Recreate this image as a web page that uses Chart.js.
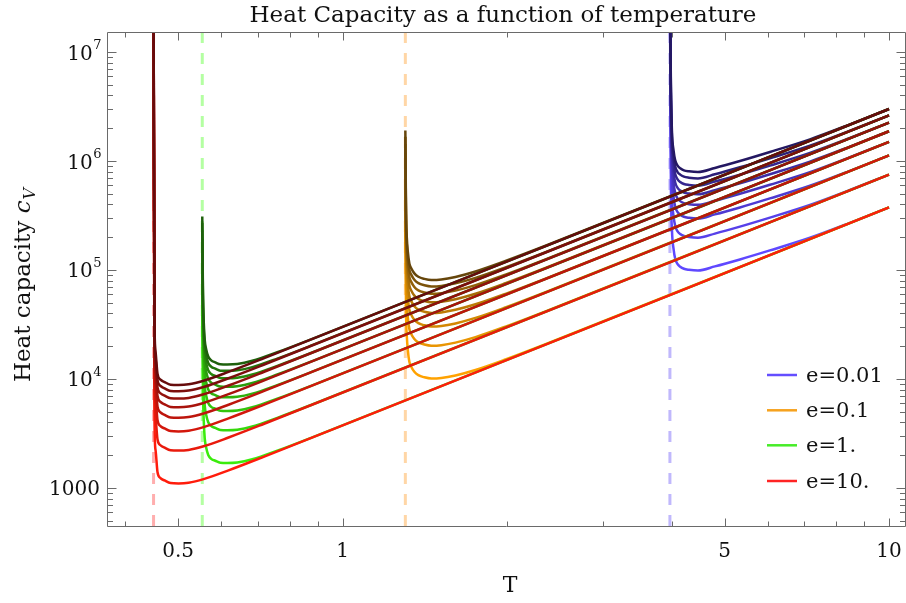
<!DOCTYPE html>
<html><head><meta charset="utf-8">
<script src="https://cdn.jsdelivr.net/npm/chart.js@4.4.1/dist/chart.umd.min.js"></script>
<style>html,body{margin:0;padding:0;background:#fff;}canvas{display:block;}</style>
</head><body>
<canvas id="c" width="906" height="603" style="width:906px;height:603px"></canvas>
<script>
// ---------- data ----------
const seriesLabels = ['e=0.01', 'e=0.1', 'e=1.', 'e=10.'];
const Tc = [3.9718, 1.3024, 0.5534, 0.4507];   // dashed critical temperatures

// e = 10
const T_e10 = [0.4507, 0.4525, 0.4545, 0.4583, 0.4641, 0.4721, 0.4842, 0.5007, 0.5224, 0.5565, 0.6182, 0.7166, 10];
const cV_e10 = [
 [4e7, 4164, 2228, 1394, 1233, 1172, 1109, 1102, 1118, 1206, 1452, 1932, 375000],
 [4e7, 8328, 4456, 2788, 2466, 2344, 2218, 2204, 2236, 2412, 2904, 3864, 750000],
 [4e7, 12490, 6684, 4182, 3699, 3516, 3327, 3306, 3354, 3618, 4356, 5796, 1125000],
 [4e7, 16660, 8912, 5576, 4932, 4688, 4436, 4408, 4472, 4824, 5808, 7728, 1500000],
 [4e7, 20820, 11140, 6970, 6165, 5860, 5545, 5510, 5590, 6030, 7260, 9660, 1875000],
 [4e7, 24980, 13370, 8364, 7398, 7032, 6654, 6612, 6708, 7236, 8712, 11590, 2250000],
 [4e7, 29150, 15600, 9758, 8631, 8204, 7763, 7714, 7826, 8442, 10160, 13520, 2625000],
 [4e7, 33310, 17820, 11150, 9864, 9376, 8872, 8816, 8944, 9648, 11620, 15460, 3000000]
];

// e = 1
const T_e1 = [0.5534, 0.5550, 0.5569, 0.5592, 0.5627, 0.5675, 0.5747, 0.5845, 0.5970, 0.6148, 0.6413, 0.6834, 0.7592, 0.8800, 10];
const cV_e1 = [
 [38690, 7733, 4132, 2849, 2335, 2006, 1851, 1778, 1704, 1697, 1715, 1835, 2199, 2917, 375000],
 [77380, 15470, 8264, 5698, 4670, 4012, 3702, 3556, 3408, 3394, 3430, 3670, 4398, 5834, 750000],
 [116100, 23200, 12400, 8547, 7005, 6018, 5553, 5334, 5112, 5091, 5145, 5505, 6597, 8751, 1125000],
 [154800, 30930, 16530, 11400, 9340, 8024, 7404, 7112, 6816, 6788, 6860, 7340, 8796, 11670, 1500000],
 [193500, 38670, 20660, 14250, 11680, 10030, 9255, 8890, 8520, 8485, 8575, 9175, 11000, 14590, 1875000],
 [232100, 46400, 24790, 17090, 14010, 12040, 11110, 10670, 10220, 10180, 10290, 11010, 13190, 17500, 2250000],
 [270800, 54130, 28920, 19940, 16350, 14040, 12960, 12450, 11930, 11880, 12010, 12850, 15390, 20420, 2625000],
 [309500, 61860, 33060, 22790, 18680, 16050, 14810, 14220, 13630, 13580, 13720, 14680, 17590, 23340, 3000000]
];

// e = 0.1
const T_e01 = [1.3024, 1.3062, 1.3107, 1.3162, 1.3246, 1.3358, 1.3528, 1.3758, 1.4110, 1.4532, 1.5158, 1.6087, 1.7502, 1.9861, 2.3513, 10];
const cV_e01 = [
 [238300, 41090, 24390, 18300, 14380, 12890, 11640, 10840, 10360, 10100, 10210, 10780, 12110, 15110, 20860, 375000],
 [476600, 82180, 48780, 36600, 28760, 25780, 23280, 21680, 20720, 20200, 20420, 21560, 24220, 30220, 41720, 750000],
 [714900, 123300, 73170, 54900, 43140, 38670, 34920, 32520, 31080, 30300, 30630, 32340, 36330, 45330, 62580, 1125000],
 [953200, 164400, 97560, 73200, 57520, 51560, 46560, 43360, 41440, 40400, 40840, 43120, 48440, 60440, 83440, 1500000],
 [1192000, 205500, 122000, 91500, 71900, 64450, 58200, 54200, 51800, 50500, 51050, 53900, 60550, 75550, 104300, 1875000],
 [1430000, 246500, 146300, 109800, 86280, 77340, 69840, 65040, 62160, 60600, 61260, 64680, 72660, 90660, 125200, 2250000],
 [1668000, 287600, 170700, 128100, 100700, 90230, 81480, 75880, 72520, 70700, 71470, 75460, 84770, 105800, 146000, 2625000],
 [1906000, 328700, 195100, 146400, 115000, 103100, 93120, 86720, 82880, 80800, 81680, 86240, 96880, 120900, 166900, 3000000]
];

// e = 0.01
const T_e001 = [3.9718, 3.9886, 4.0054, 4.0342, 4.0615, 4.0994, 4.1480, 4.2133, 4.3031, 4.4694, 4.8007, 5.3349, 6.0542, 7.1671, 8.4846, 10];
const cV_e001 = [
 [4e7, 609200, 237400, 154600, 126800, 113800, 107100, 102600, 100500, 98970, 107900, 125000, 151200, 197600, 271000, 375000],
 [4e7, 1218000, 474800, 309200, 253600, 227600, 214200, 205200, 201000, 197900, 215800, 250000, 302400, 395200, 542000, 750000],
 [4e7, 1828000, 712200, 463800, 380400, 341400, 321300, 307800, 301500, 296900, 323700, 375000, 453600, 592800, 813000, 1125000],
 [4e7, 2437000, 949600, 618400, 507200, 455200, 428400, 410400, 402000, 395900, 431600, 500000, 604800, 790400, 1084000, 1500000],
 [4e7, 3046000, 1187000, 773000, 634000, 569000, 535500, 513000, 502500, 494900, 539500, 625000, 756000, 988000, 1355000, 1875000],
 [4e7, 3655000, 1424000, 927600, 760800, 682800, 642600, 615600, 603000, 593800, 647400, 750000, 907200, 1186000, 1626000, 2250000],
 [4e7, 4264000, 1662000, 1082000, 887600, 796600, 749700, 718200, 703500, 692800, 755300, 875000, 1058000, 1383000, 1897000, 2625000],
 [4e7, 4874000, 1899000, 1237000, 1014000, 910400, 856800, 820800, 804000, 791800, 863200, 1000000, 1210000, 1581000, 2168000, 3000000]
];

// axis ticks
const xTickMajor = [0.5, 1, 5, 10];
const xTickLabels = ['0.5', '1', '5', '10'];
const xTickMinor = [0.4, 0.6, 0.7, 0.8, 0.9, 2, 3, 4, 6, 7, 8, 9];
const yTickMajor = [1000, 1e4, 1e5, 1e6, 1e7];
const yTickBase = ['1000', '10', '10', '10', '10'];
const yTickExp  = ['', '4', '5', '6', '7'];

// ---------- styling ----------
const X_MIN = 0.3704, X_MAX = 10.697, Y_MIN = 448, Y_MAX = 1.526e7;
const FONT = '"DejaVu Serif", "Liberation Serif", serif';
const groups = [
  {T: T_e001, C: cV_e001, c1: [95, 72, 255], c8: [36, 24, 98],  dash: 'rgb(192,184,252)', leg: 'rgb(100,78,255)', base: 30},
  {T: T_e01,  C: cV_e01,  c1: [255, 162, 0], c8: [102, 70, 12], dash: 'rgb(255,214,166)', leg: 'rgb(246,162,30)', base: 20},
  {T: T_e1,   C: cV_e1,   c1: [58, 236, 12], c8: [30, 96, 12],  dash: 'rgb(180,255,162)', leg: 'rgb(70,236,40)',  base: 10},
  {T: T_e10,  C: cV_e10,  c1: [255, 28, 12], c8: [102, 12, 12], dash: 'rgb(255,174,174)', leg: 'rgb(255,36,36)',  base: 0}
];
function mix(a, b, t) {
  return 'rgb(' + a.map((v, i) => Math.round(v + (b[i] - v) * t)).join(',') + ')';
}

const datasets = [];
groups.forEach((g, gi) => {
  datasets.push({
    label: 'Tc' + gi,
    data: [{x: Tc[gi], y: Y_MAX}, {x: Tc[gi], y: Y_MIN}],
    borderColor: g.dash, borderWidth: 3, borderDash: [11, 10],
    cubicInterpolationMode: 'default', tension: 0, pointRadius: 0, order: 100
  });
  g.C.forEach((vals, k) => {
    datasets.push({
      label: seriesLabels[gi] + ' #' + (k + 1),
      data: g.T.map((t, i) => ({x: t, y: vals[i]})),
      borderColor: mix(g.c1, g.c8, k / 7),
      borderWidth: 2.5, pointRadius: 0, fill: false,
      cubicInterpolationMode: 'monotone',
      order: g.base + (7 - k)
    });
  });
});

const framePlugin = {
  id: 'frame',
  afterDraw(chart) {
    const {ctx, chartArea: a} = chart;
    const xs = chart.scales.x, ys = chart.scales.y;
    const L = a.left + 0.5, R = a.right + 0.5, TP = a.top + 0.5, B = a.bottom + 0.5;
    ctx.save();
    ctx.strokeStyle = '#6a6a6a'; ctx.lineWidth = 1;
    ctx.beginPath();
    ctx.moveTo(L, TP); ctx.lineTo(R, TP); ctx.lineTo(R, B); ctx.lineTo(L, B); ctx.closePath();
    ctx.stroke();
    ctx.beginPath();
    const xt = (v, len) => {
      const p = Math.round(xs.getPixelForValue(v)) + 0.5;
      ctx.moveTo(p, B); ctx.lineTo(p, B - len);
      ctx.moveTo(p, TP); ctx.lineTo(p, TP + len);
    };
    const yt = (v, len) => {
      const p = Math.round(ys.getPixelForValue(v)) + 0.5;
      ctx.moveTo(L, p); ctx.lineTo(L + len, p);
      ctx.moveTo(R, p); ctx.lineTo(R - len, p);
    };
    xTickMajor.forEach(v => xt(v, 8));
    xTickMinor.forEach(v => xt(v, 5));
    yTickMajor.forEach(v => yt(v, 9));
    for (let n = 2; n <= 7; n++) for (let m = 2; m <= 9; m++) {
      const v = m * Math.pow(10, n);
      if (v > Y_MIN && v < Y_MAX) yt(v, 5.5);
    }
    ctx.stroke();

    ctx.fillStyle = '#111';
    // x tick labels
    ctx.font = '20px ' + FONT; ctx.textAlign = 'center'; ctx.textBaseline = 'alphabetic';
    xTickMajor.forEach((v, i) => ctx.fillText(xTickLabels[i], xs.getPixelForValue(v), 557));
    // y tick labels
    yTickMajor.forEach((v, i) => {
      const p = ys.getPixelForValue(v);
      ctx.textAlign = 'right';
      if (!yTickExp[i]) {
        ctx.font = '20px ' + FONT;
        ctx.fillText(yTickBase[i], 100, p + 7.5);
      } else {
        ctx.font = '13px ' + FONT;
        const ew = ctx.measureText(yTickExp[i]).width;
        ctx.fillText(yTickExp[i], 101.5, p - 3);
        ctx.font = '20px ' + FONT;
        ctx.fillText(yTickBase[i], 101.5 - ew - 0.5, p + 7.5);
      }
    });
    // title
    ctx.textAlign = 'center';
    ctx.font = '23px ' + FONT;
    ctx.fillText('Heat Capacity as a function of temperature', 503, 22);
    // x axis title
    ctx.font = '22px ' + FONT;
    ctx.fillText('T', 510, 592);
    // y axis title
    ctx.save();
    ctx.translate(30, 285);
    ctx.rotate(-Math.PI / 2);
    const p1 = 'Heat capacity ';
    ctx.font = '23px ' + FONT; const w1 = ctx.measureText(p1).width;
    ctx.font = 'italic 23px ' + FONT; const w2 = ctx.measureText('c').width;
    ctx.font = 'italic 16px ' + FONT; const w3 = ctx.measureText('V').width;
    let x0 = -(w1 + w2 + w3 + 1) / 2;
    ctx.textAlign = 'left';
    ctx.font = '23px ' + FONT; ctx.fillText(p1, x0, 0);
    ctx.font = 'italic 23px ' + FONT; ctx.fillText('c', x0 + w1, 0);
    ctx.font = 'italic 16px ' + FONT; ctx.fillText('V', x0 + w1 + w2 + 1, 5);
    ctx.restore();
    // legend
    const ly = [375, 410.3, 445.3, 481];
    ctx.font = '21px ' + FONT; ctx.textAlign = 'left';
    groups.forEach((g, i) => {
      ctx.strokeStyle = g.leg; ctx.lineWidth = 2.5;
      ctx.beginPath(); ctx.moveTo(767, ly[i]); ctx.lineTo(797, ly[i]); ctx.stroke();
      ctx.fillStyle = '#111';
      ctx.fillText(seriesLabels[i], 806, ly[i] + 7);
    });
    ctx.restore();
  }
};

new Chart(document.getElementById('c').getContext('2d'), {
  type: 'line',
  data: {datasets},
  options: {
    responsive: false, animation: false, devicePixelRatio: 1, events: [],
    layout: {padding: {left: 107, right: 1, top: 32, bottom: 77}},
    scales: {
      x: {type: 'logarithmic', min: X_MIN, max: X_MAX, display: false},
      y: {type: 'logarithmic', min: Y_MIN, max: Y_MAX, display: false}
    },
    plugins: {legend: {display: false}, tooltip: {enabled: false}, title: {display: false}},
    elements: {point: {radius: 0}}
  },
  plugins: [framePlugin]
});
</script>
</body></html>
